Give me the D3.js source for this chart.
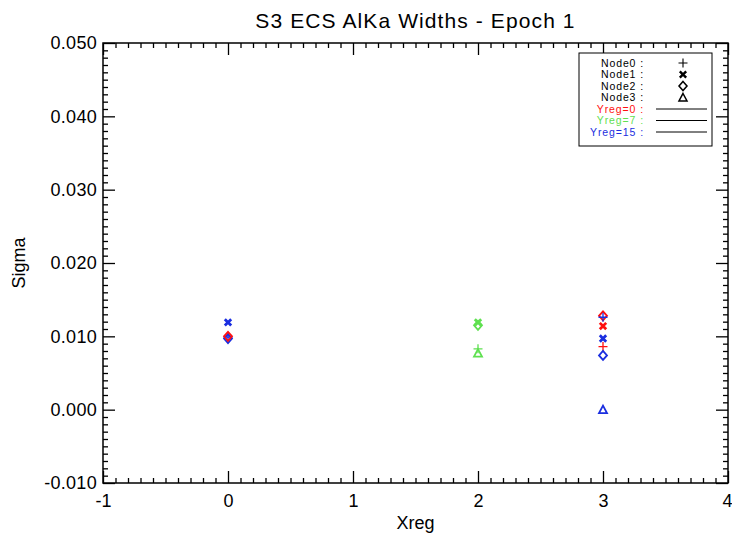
<!DOCTYPE html>
<html><head><meta charset="utf-8">
<script src="https://cdn.jsdelivr.net/npm/d3@7"></script>
<style>
html,body{margin:0;padding:0;background:#fff;}
svg{display:block;}
text{font-family:"Liberation Sans",Arial,Helvetica,sans-serif;}
</style></head>
<body>
<svg id="chart" width="732" height="539"></svg>
<script>
// ---- data ----
const chartTitle = "S3 ECS AlKa Widths - Epoch 1";
const xTickValues = [-1, 0, 1, 2, 3, 4];
const yTickValues = [-0.010, 0.000, 0.010, 0.020, 0.030, 0.040, 0.050];
const nodeNames = ["Node0", "Node1", "Node2", "Node3"];
const yregNames = ["Yreg=0", "Yreg=7", "Yreg=15"];
const yregColors = ["#ff1010", "#5fe050", "#1a2ee0"];
// one entry per plotted point
const pointXreg  = [0,      0,      0,      0,      2,      2,      2,      2,      3,      3,      3,      3,      3,      3,      3];
const pointNode  = [1,      2,      0,      2,      0,      1,      2,      3,      2,      0,      1,      0,      1,      2,      3];
const pointYreg  = [2,      2,      2,      0,      1,      1,      1,      1,      0,      2,      0,      0,      2,      2,      2];
const pointSigma = [0.0119, 0.0097, 0.0099, 0.0100, 0.0083, 0.0119, 0.0115, 0.0077, 0.0128, 0.0126, 0.0114, 0.0086, 0.0097, 0.0074, 0.0000];

// ---- layout ----
const svg = d3.select("#chart");
const L = 103, R = 728, T = 43, B = 483;
const x = d3.scaleLinear().domain([-1, 4]).range([L, R]);
const y = d3.scaleLinear().domain([-0.01, 0.05]).range([B, T]);

const xMinor = d3.range(-10, 41).map(d => d / 10).filter(d => Math.abs(d - Math.round(d)) > 1e-9);
const yMinor = d3.range(-10, 51).map(d => d / 1000).filter(d => Math.abs(d * 100 - Math.round(d * 100)) > 1e-9);

function styleAxis(g){
  g.select(".domain").remove();
  g.selectAll(".tick line").attr("stroke", "#000").attr("stroke-width", 1.3);
}
const fmtY = d => (d < 0 ? "-" : "") + Math.abs(d).toFixed(3);
const fmtX = d => (d < 0 ? "-" : "") + Math.abs(d);

// major axes with labels
svg.append("g").attr("transform", `translate(0,${B})`)
  .call(d3.axisBottom(x).tickValues(xTickValues).tickSize(-12).tickPadding(22).tickFormat(fmtX))
  .call(styleAxis)
  .call(g => g.selectAll("text").attr("font-size", 18).attr("fill", "#000").attr("dy", "0.1em"))
  .call(g => g.selectAll(".tick").filter(d => d === 4).select("text").attr("text-anchor", "end").attr("x", 4));
svg.append("g").attr("transform", `translate(0,${B})`)
  .call(d3.axisBottom(x).tickValues(xMinor).tickSize(-5).tickFormat(""))
  .call(styleAxis);
svg.append("g").attr("transform", `translate(0,${T})`)
  .call(d3.axisTop(x).tickValues(xTickValues).tickSize(-12).tickFormat(""))
  .call(styleAxis);
svg.append("g").attr("transform", `translate(0,${T})`)
  .call(d3.axisTop(x).tickValues(xMinor).tickSize(-5).tickFormat(""))
  .call(styleAxis);

svg.append("g").attr("transform", `translate(${L},0)`)
  .call(d3.axisLeft(y).tickValues(yTickValues).tickSize(-12).tickPadding(6).tickFormat(fmtY))
  .call(styleAxis)
  .call(g => g.selectAll("text").attr("font-size", 18).attr("fill", "#000").attr("letter-spacing", "0.3px"));
svg.append("g").attr("transform", `translate(${L},0)`)
  .call(d3.axisLeft(y).tickValues(yMinor).tickSize(-5).tickFormat(""))
  .call(styleAxis);
svg.append("g").attr("transform", `translate(${R},0)`)
  .call(d3.axisRight(y).tickValues(yTickValues).tickSize(-12).tickFormat(""))
  .call(styleAxis);
svg.append("g").attr("transform", `translate(${R},0)`)
  .call(d3.axisRight(y).tickValues(yMinor).tickSize(-5).tickFormat(""))
  .call(styleAxis);

// frame
svg.append("rect").attr("x", L).attr("y", T).attr("width", R - L).attr("height", B - T)
  .attr("fill", "none").attr("stroke", "#000").attr("stroke-width", 1.5);

// titles
svg.append("text").attr("x", (L + R) / 2).attr("y", 28).attr("text-anchor", "middle")
  .attr("font-size", 21).attr("letter-spacing", "1.1px").text(chartTitle);
svg.append("text").attr("x", (L + R) / 2).attr("y", 529).attr("text-anchor", "middle")
  .attr("font-size", 18).text("Xreg");
svg.append("text").attr("transform", `translate(25,${(T + B) / 2}) rotate(-90)`).attr("text-anchor", "middle")
  .attr("font-size", 18).text("Sigma");

// symbol generators (IDL-like)
function symbolPath(node){
  switch(node){
    case 0: return "M-4.5,0H4.5M0,-4.5V4.5";
    case 1: return "M-3.2,-3.2L3.2,3.2M-3.2,3.2L3.2,-3.2";
    case 2: return "M0,-4.5L4,0L0,4.5L-4,0Z";
    default: return "M0,-4L4,3.5L-4,3.5Z";
  }
}
function symbolWidth(node){ return node === 1 ? 2.8 : (node === 0 ? 1.3 : 1.8); }

const pts = d3.range(pointSigma.length).map(i => ({x: pointXreg[i], n: pointNode[i], yr: pointYreg[i], s: pointSigma[i]}));
svg.append("g").selectAll("path").data(pts).join("path")
  .attr("transform", d => `translate(${x(d.x)},${y(d.s)})`)
  .attr("d", d => symbolPath(d.n))
  .attr("fill", "none")
  .attr("stroke", d => yregColors[d.yr])
  .attr("stroke-width", d => symbolWidth(d.n))
  .attr("stroke-linejoin", "miter");

// legend
const lg = svg.append("g");
lg.append("rect").attr("x", 579).attr("y", 53).attr("width", 133).attr("height", 93)
  .attr("fill", "#fff").attr("stroke", "#000").attr("stroke-width", 1);
const rowY = i => 63 + i * 11.5;
nodeNames.forEach((n, i) => {
  lg.append("text").attr("x", 644).attr("y", rowY(i)).attr("dy", "0.35em").attr("text-anchor", "end")
    .attr("font-size", 10.5).attr("letter-spacing", "0.9px").text(n + " :");
  lg.append("path").attr("transform", `translate(683,${rowY(i)})`).attr("d", symbolPath(i))
    .attr("fill", "none").attr("stroke", "#000").attr("stroke-width", symbolWidth(i) * 0.85);
});
yregNames.forEach((n, j) => {
  const i = j + 4;
  lg.append("text").attr("x", 644).attr("y", rowY(i)).attr("dy", "0.35em").attr("text-anchor", "end")
    .attr("font-size", 10.5).attr("letter-spacing", "0.9px").attr("fill", yregColors[j]).text(n + " :");
  lg.append("line").attr("x1", 656).attr("x2", 707).attr("y1", rowY(i)).attr("y2", rowY(i))
    .attr("stroke", "#000").attr("stroke-width", 1);
});
</script>
</body></html>
